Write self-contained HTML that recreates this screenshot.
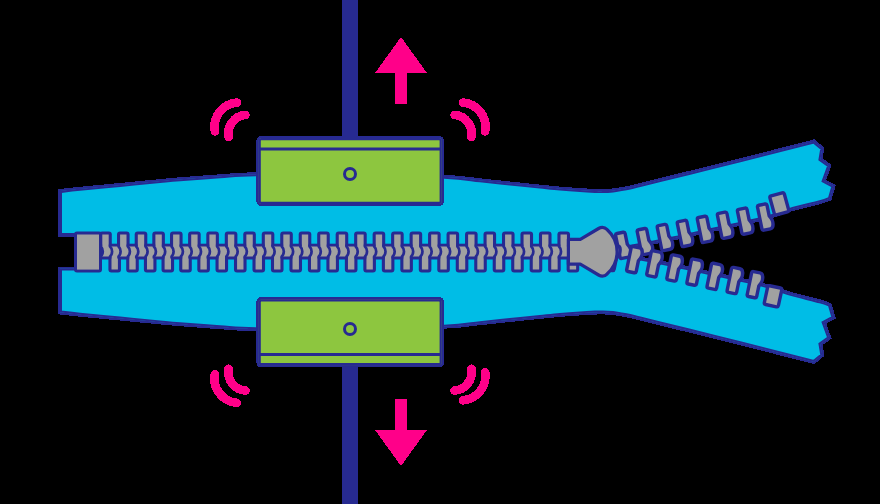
<!DOCTYPE html>
<html><head><meta charset="utf-8"><title>Zipper</title>
<style>html,body{margin:0;padding:0;background:#000;width:880px;height:504px;overflow:hidden;font-family:"Liberation Sans",sans-serif}svg{display:block}</style>
</head><body>
<svg width="880" height="504" viewBox="0 0 880 504">
<rect width="880" height="504" fill="#000"/>
<rect x="342" y="0" width="16" height="504" fill="#272a91"/>
<defs><clipPath id="tc"><path d="M60,235 L60,191 C63.33,190.63 70,189.8 80,188.8 C90,187.8 106.67,186.28 120,185 C133.33,183.72 150,182.05 160,181.1 C170,180.15 170,180.1 180,179.3 C190,178.5 207.33,177.13 220,176.3 C232.67,175.47 234.33,174.6 256,174.3 C277.67,174 318.67,174.08 350,174.5 C381.33,174.92 422.33,175.83 444,176.8 C465.67,177.77 469,179.18 480,180.3 C491,181.42 500,182.45 510,183.5 C520,184.55 531.67,185.75 540,186.6 C548.33,187.45 553.33,188.02 560,188.6 C566.67,189.18 574.17,189.72 580,190.1 C585.83,190.48 591.17,190.73 595,190.9 C598.83,191.07 600,191.18 603,191.1 C606,191.02 609.92,190.73 613,190.4 C616.08,190.07 618.67,189.58 621.5,189.1 C624.33,188.62 626.92,188.18 630,187.5 C633.08,186.82 635,186.23 640,185 C645,183.77 651.67,182.15 660,180.1 C668.33,178.05 676.67,175.98 690,172.7 C703.33,169.42 731.67,162.45 740,160.4 L813.8,141.5 L822.3,148.5 L820.5,159.3 L829.3,165.7 L823.8,180.8 L833.5,186 L829.8,198.7 C828.17,199.27 826.63,200.25 820,202.1 C813.37,203.95 797.88,207.5 790,209.8 C782.12,212.1 778.7,214.07 772.7,215.9 C766.7,217.73 760.45,219.25 754,220.8 C747.55,222.35 740.88,223.7 734,225.2 C727.12,226.7 719.53,228.32 712.7,229.8 C705.87,231.28 699.62,232.65 693,234.1 C686.38,235.55 680.17,237 673,238.5 C665.83,240 658,241.55 650,243.1 C642,244.65 632.5,246.4 625,247.8 C617.5,249.2 608.33,250.88 605,251.5 L603,251.75 L605,252 C608.33,252.62 617.5,254.3 625,255.7 C632.5,257.1 642,258.85 650,260.4 C658,261.95 665.83,263.5 673,265 C680.17,266.5 686.38,267.95 693,269.4 C699.62,270.85 705.87,272.22 712.7,273.7 C719.53,275.18 727.12,276.8 734,278.3 C740.88,279.8 747.55,281.15 754,282.7 C760.45,284.25 766.7,285.77 772.7,287.6 C778.7,289.43 782.12,291.4 790,293.7 C797.88,296 813.37,299.55 820,301.4 C826.63,303.25 828.17,304.23 829.8,304.8 L833.5,317.5 L823.8,322.7 L829.3,337.8 L820.5,344.2 L822.3,355 L813.8,362 L740,343.1 C731.67,341.05 703.33,334.08 690,330.8 C676.67,327.52 668.33,325.45 660,323.4 C651.67,321.35 645,319.73 640,318.5 C635,317.27 633.08,316.68 630,316 C626.92,315.32 624.33,314.88 621.5,314.4 C618.67,313.92 616.08,313.43 613,313.1 C609.92,312.77 606,312.48 603,312.4 C600,312.32 598.83,312.43 595,312.6 C591.17,312.77 585.83,313.02 580,313.4 C574.17,313.78 566.67,314.32 560,314.9 C553.33,315.48 548.33,316.05 540,316.9 C531.67,317.75 520,318.95 510,320 C500,321.05 491,322.08 480,323.2 C469,324.32 465.67,325.73 444,326.7 C422.33,327.67 381.33,328.58 350,329 C318.67,329.42 277.67,329.5 256,329.2 C234.33,328.9 232.67,328.03 220,327.2 C207.33,326.37 190,325 180,324.2 C170,323.4 170,323.35 160,322.4 C150,321.45 133.33,319.78 120,318.5 C106.67,317.22 90,315.7 80,314.7 C70,313.7 63.33,312.87 60,312.5 L60,268.5 L76,268.5 L76,235 Z"/></clipPath></defs>
<path shape-rendering="crispEdges" d="M60,235 L60,191 C63.33,190.63 70,189.8 80,188.8 C90,187.8 106.67,186.28 120,185 C133.33,183.72 150,182.05 160,181.1 C170,180.15 170,180.1 180,179.3 C190,178.5 207.33,177.13 220,176.3 C232.67,175.47 234.33,174.6 256,174.3 C277.67,174 318.67,174.08 350,174.5 C381.33,174.92 422.33,175.83 444,176.8 C465.67,177.77 469,179.18 480,180.3 C491,181.42 500,182.45 510,183.5 C520,184.55 531.67,185.75 540,186.6 C548.33,187.45 553.33,188.02 560,188.6 C566.67,189.18 574.17,189.72 580,190.1 C585.83,190.48 591.17,190.73 595,190.9 C598.83,191.07 600,191.18 603,191.1 C606,191.02 609.92,190.73 613,190.4 C616.08,190.07 618.67,189.58 621.5,189.1 C624.33,188.62 626.92,188.18 630,187.5 C633.08,186.82 635,186.23 640,185 C645,183.77 651.67,182.15 660,180.1 C668.33,178.05 676.67,175.98 690,172.7 C703.33,169.42 731.67,162.45 740,160.4 L813.8,141.5 L822.3,148.5 L820.5,159.3 L829.3,165.7 L823.8,180.8 L833.5,186 L829.8,198.7 C828.17,199.27 826.63,200.25 820,202.1 C813.37,203.95 797.88,207.5 790,209.8 C782.12,212.1 778.7,214.07 772.7,215.9 C766.7,217.73 760.45,219.25 754,220.8 C747.55,222.35 740.88,223.7 734,225.2 C727.12,226.7 719.53,228.32 712.7,229.8 C705.87,231.28 699.62,232.65 693,234.1 C686.38,235.55 680.17,237 673,238.5 C665.83,240 658,241.55 650,243.1 C642,244.65 632.5,246.4 625,247.8 C617.5,249.2 608.33,250.88 605,251.5 L603,251.75 L605,252 C608.33,252.62 617.5,254.3 625,255.7 C632.5,257.1 642,258.85 650,260.4 C658,261.95 665.83,263.5 673,265 C680.17,266.5 686.38,267.95 693,269.4 C699.62,270.85 705.87,272.22 712.7,273.7 C719.53,275.18 727.12,276.8 734,278.3 C740.88,279.8 747.55,281.15 754,282.7 C760.45,284.25 766.7,285.77 772.7,287.6 C778.7,289.43 782.12,291.4 790,293.7 C797.88,296 813.37,299.55 820,301.4 C826.63,303.25 828.17,304.23 829.8,304.8 L833.5,317.5 L823.8,322.7 L829.3,337.8 L820.5,344.2 L822.3,355 L813.8,362 L740,343.1 C731.67,341.05 703.33,334.08 690,330.8 C676.67,327.52 668.33,325.45 660,323.4 C651.67,321.35 645,319.73 640,318.5 C635,317.27 633.08,316.68 630,316 C626.92,315.32 624.33,314.88 621.5,314.4 C618.67,313.92 616.08,313.43 613,313.1 C609.92,312.77 606,312.48 603,312.4 C600,312.32 598.83,312.43 595,312.6 C591.17,312.77 585.83,313.02 580,313.4 C574.17,313.78 566.67,314.32 560,314.9 C553.33,315.48 548.33,316.05 540,316.9 C531.67,317.75 520,318.95 510,320 C500,321.05 491,322.08 480,323.2 C469,324.32 465.67,325.73 444,326.7 C422.33,327.67 381.33,328.58 350,329 C318.67,329.42 277.67,329.5 256,329.2 C234.33,328.9 232.67,328.03 220,327.2 C207.33,326.37 190,325 180,324.2 C170,323.4 170,323.35 160,322.4 C150,321.45 133.33,319.78 120,318.5 C106.67,317.22 90,315.7 80,314.7 C70,313.7 63.33,312.87 60,312.5 L60,268.5 L76,268.5 L76,235 Z" fill="#00bde6" stroke="#272a91" stroke-width="4" stroke-linejoin="miter" stroke-miterlimit="10"/>
<path clip-path="url(#tc)" d="M60,235 L60,191 C63.33,190.63 70,189.8 80,188.8 C90,187.8 106.67,186.28 120,185 C133.33,183.72 150,182.05 160,181.1 C170,180.15 170,180.1 180,179.3 C190,178.5 207.33,177.13 220,176.3 C232.67,175.47 234.33,174.6 256,174.3 C277.67,174 318.67,174.08 350,174.5 C381.33,174.92 422.33,175.83 444,176.8 C465.67,177.77 469,179.18 480,180.3 C491,181.42 500,182.45 510,183.5 C520,184.55 531.67,185.75 540,186.6 C548.33,187.45 553.33,188.02 560,188.6 C566.67,189.18 574.17,189.72 580,190.1 C585.83,190.48 591.17,190.73 595,190.9 C598.83,191.07 600,191.18 603,191.1 C606,191.02 609.92,190.73 613,190.4 C616.08,190.07 618.67,189.58 621.5,189.1 C624.33,188.62 626.92,188.18 630,187.5 C633.08,186.82 635,186.23 640,185 C645,183.77 651.67,182.15 660,180.1 C668.33,178.05 676.67,175.98 690,172.7 C703.33,169.42 731.67,162.45 740,160.4 L813.8,141.5 L822.3,148.5 L820.5,159.3 L829.3,165.7 L823.8,180.8 L833.5,186 L829.8,198.7 C828.17,199.27 826.63,200.25 820,202.1 C813.37,203.95 797.88,207.5 790,209.8 C782.12,212.1 778.7,214.07 772.7,215.9 C766.7,217.73 760.45,219.25 754,220.8 C747.55,222.35 740.88,223.7 734,225.2 C727.12,226.7 719.53,228.32 712.7,229.8 C705.87,231.28 699.62,232.65 693,234.1 C686.38,235.55 680.17,237 673,238.5 C665.83,240 658,241.55 650,243.1 C642,244.65 632.5,246.4 625,247.8 C617.5,249.2 608.33,250.88 605,251.5 L603,251.75 L605,252 C608.33,252.62 617.5,254.3 625,255.7 C632.5,257.1 642,258.85 650,260.4 C658,261.95 665.83,263.5 673,265 C680.17,266.5 686.38,267.95 693,269.4 C699.62,270.85 705.87,272.22 712.7,273.7 C719.53,275.18 727.12,276.8 734,278.3 C740.88,279.8 747.55,281.15 754,282.7 C760.45,284.25 766.7,285.77 772.7,287.6 C778.7,289.43 782.12,291.4 790,293.7 C797.88,296 813.37,299.55 820,301.4 C826.63,303.25 828.17,304.23 829.8,304.8 L833.5,317.5 L823.8,322.7 L829.3,337.8 L820.5,344.2 L822.3,355 L813.8,362 L740,343.1 C731.67,341.05 703.33,334.08 690,330.8 C676.67,327.52 668.33,325.45 660,323.4 C651.67,321.35 645,319.73 640,318.5 C635,317.27 633.08,316.68 630,316 C626.92,315.32 624.33,314.88 621.5,314.4 C618.67,313.92 616.08,313.43 613,313.1 C609.92,312.77 606,312.48 603,312.4 C600,312.32 598.83,312.43 595,312.6 C591.17,312.77 585.83,313.02 580,313.4 C574.17,313.78 566.67,314.32 560,314.9 C553.33,315.48 548.33,316.05 540,316.9 C531.67,317.75 520,318.95 510,320 C500,321.05 491,322.08 480,323.2 C469,324.32 465.67,325.73 444,326.7 C422.33,327.67 381.33,328.58 350,329 C318.67,329.42 277.67,329.5 256,329.2 C234.33,328.9 232.67,328.03 220,327.2 C207.33,326.37 190,325 180,324.2 C170,323.4 170,323.35 160,322.4 C150,321.45 133.33,319.78 120,318.5 C106.67,317.22 90,315.7 80,314.7 C70,313.7 63.33,312.87 60,312.5 L60,268.5 L76,268.5 L76,235 Z" fill="#00bde6" stroke="#272a91" stroke-width="4" stroke-linejoin="miter" stroke-miterlimit="10"/>
<g fill="#272a91"><rect x="99.2" y="231.4" width="12.6" height="22" rx="3"/><rect x="117" y="231.4" width="12.6" height="22" rx="3"/><rect x="134.7" y="231.4" width="12.6" height="22" rx="3"/><rect x="152.3" y="231.4" width="12.6" height="22" rx="3"/><rect x="170" y="231.4" width="12.6" height="22" rx="3"/><rect x="188.1" y="231.4" width="12.6" height="22" rx="3"/><rect x="206.3" y="231.4" width="12.6" height="22" rx="3"/><rect x="224.78" y="231.4" width="12.6" height="22" rx="3"/><rect x="243.26" y="231.4" width="12.6" height="22" rx="3"/><rect x="261.74" y="231.4" width="12.6" height="22" rx="3"/><rect x="280.22" y="231.4" width="12.6" height="22" rx="3"/><rect x="298.7" y="231.4" width="12.6" height="22" rx="3"/><rect x="317.18" y="231.4" width="12.6" height="22" rx="3"/><rect x="335.66" y="231.4" width="12.6" height="22" rx="3"/><rect x="354.14" y="231.4" width="12.6" height="22" rx="3"/><rect x="372.62" y="231.4" width="12.6" height="22" rx="3"/><rect x="391.1" y="231.4" width="12.6" height="22" rx="3"/><rect x="409.58" y="231.4" width="12.6" height="22" rx="3"/><rect x="428.06" y="231.4" width="12.6" height="22" rx="3"/><rect x="446.54" y="231.4" width="12.6" height="22" rx="3"/><rect x="465.02" y="231.4" width="12.6" height="22" rx="3"/><rect x="483.5" y="231.4" width="12.6" height="22" rx="3"/><rect x="501.98" y="231.4" width="12.6" height="22" rx="3"/><rect x="520.46" y="231.4" width="12.6" height="22" rx="3"/><rect x="538.94" y="231.4" width="12.6" height="22" rx="3"/><rect x="557.42" y="231.4" width="12.6" height="22" rx="3"/><rect x="108.4" y="250.6" width="12.6" height="22" rx="3"/><rect x="126.2" y="250.6" width="12.6" height="22" rx="3"/><rect x="143.9" y="250.6" width="12.6" height="22" rx="3"/><rect x="161.5" y="250.6" width="12.6" height="22" rx="3"/><rect x="179.2" y="250.6" width="12.6" height="22" rx="3"/><rect x="197.3" y="250.6" width="12.6" height="22" rx="3"/><rect x="215.5" y="250.6" width="12.6" height="22" rx="3"/><rect x="233.98" y="250.6" width="12.6" height="22" rx="3"/><rect x="252.46" y="250.6" width="12.6" height="22" rx="3"/><rect x="270.94" y="250.6" width="12.6" height="22" rx="3"/><rect x="289.42" y="250.6" width="12.6" height="22" rx="3"/><rect x="307.9" y="250.6" width="12.6" height="22" rx="3"/><rect x="326.38" y="250.6" width="12.6" height="22" rx="3"/><rect x="344.86" y="250.6" width="12.6" height="22" rx="3"/><rect x="363.34" y="250.6" width="12.6" height="22" rx="3"/><rect x="381.82" y="250.6" width="12.6" height="22" rx="3"/><rect x="400.3" y="250.6" width="12.6" height="22" rx="3"/><rect x="418.78" y="250.6" width="12.6" height="22" rx="3"/><rect x="437.26" y="250.6" width="12.6" height="22" rx="3"/><rect x="455.74" y="250.6" width="12.6" height="22" rx="3"/><rect x="474.22" y="250.6" width="12.6" height="22" rx="3"/><rect x="492.7" y="250.6" width="12.6" height="22" rx="3"/><rect x="511.18" y="250.6" width="12.6" height="22" rx="3"/><rect x="529.66" y="250.6" width="12.6" height="22" rx="3"/><rect x="548.14" y="250.6" width="12.6" height="22" rx="3"/><rect x="566.62" y="250.6" width="12.6" height="22" rx="3"/><rect x="74" y="243.7" width="500" height="15.8"/><rect x="74" y="231.5" width="28" height="41.1" rx="3"/></g>
<g fill="#a1a1a1"><rect x="102.3" y="234.5" width="6.4" height="18"/><rect x="120.1" y="234.5" width="6.4" height="18"/><rect x="137.8" y="234.5" width="6.4" height="18"/><rect x="155.4" y="234.5" width="6.4" height="18"/><rect x="173.1" y="234.5" width="6.4" height="18"/><rect x="191.2" y="234.5" width="6.4" height="18"/><rect x="209.4" y="234.5" width="6.4" height="18"/><rect x="227.88" y="234.5" width="6.4" height="18"/><rect x="246.36" y="234.5" width="6.4" height="18"/><rect x="264.84" y="234.5" width="6.4" height="18"/><rect x="283.32" y="234.5" width="6.4" height="18"/><rect x="301.8" y="234.5" width="6.4" height="18"/><rect x="320.28" y="234.5" width="6.4" height="18"/><rect x="338.76" y="234.5" width="6.4" height="18"/><rect x="357.24" y="234.5" width="6.4" height="18"/><rect x="375.72" y="234.5" width="6.4" height="18"/><rect x="394.2" y="234.5" width="6.4" height="18"/><rect x="412.68" y="234.5" width="6.4" height="18"/><rect x="431.16" y="234.5" width="6.4" height="18"/><rect x="449.64" y="234.5" width="6.4" height="18"/><rect x="468.12" y="234.5" width="6.4" height="18"/><rect x="486.6" y="234.5" width="6.4" height="18"/><rect x="505.08" y="234.5" width="6.4" height="18"/><rect x="523.56" y="234.5" width="6.4" height="18"/><rect x="542.04" y="234.5" width="6.4" height="18"/><rect x="560.52" y="234.5" width="6.4" height="18"/><rect x="111.5" y="251" width="6.4" height="18.5"/><rect x="129.3" y="251" width="6.4" height="18.5"/><rect x="147" y="251" width="6.4" height="18.5"/><rect x="164.6" y="251" width="6.4" height="18.5"/><rect x="182.3" y="251" width="6.4" height="18.5"/><rect x="200.4" y="251" width="6.4" height="18.5"/><rect x="218.6" y="251" width="6.4" height="18.5"/><rect x="237.08" y="251" width="6.4" height="18.5"/><rect x="255.56" y="251" width="6.4" height="18.5"/><rect x="274.04" y="251" width="6.4" height="18.5"/><rect x="292.52" y="251" width="6.4" height="18.5"/><rect x="311" y="251" width="6.4" height="18.5"/><rect x="329.48" y="251" width="6.4" height="18.5"/><rect x="347.96" y="251" width="6.4" height="18.5"/><rect x="366.44" y="251" width="6.4" height="18.5"/><rect x="384.92" y="251" width="6.4" height="18.5"/><rect x="403.4" y="251" width="6.4" height="18.5"/><rect x="421.88" y="251" width="6.4" height="18.5"/><rect x="440.36" y="251" width="6.4" height="18.5"/><rect x="458.84" y="251" width="6.4" height="18.5"/><rect x="477.32" y="251" width="6.4" height="18.5"/><rect x="495.8" y="251" width="6.4" height="18.5"/><rect x="514.28" y="251" width="6.4" height="18.5"/><rect x="532.76" y="251" width="6.4" height="18.5"/><rect x="551.24" y="251" width="6.4" height="18.5"/><rect x="569.72" y="251" width="6.4" height="18.5"/><rect x="102" y="246.5" width="470" height="10"/><rect x="77" y="234.5" width="22" height="35.1"/></g>
<path d="M100.8,244.5 L100.8,246.5 A7.25,7.25 0 0 1 100.8,256.5 L100.8,258.5 M110.1,244.5 L110.1,246.5 A7.25,7.25 0 0 1 110.1,256.5 L110.1,258.5 M127.9,244.5 L127.9,246.5 A7.25,7.25 0 0 1 127.9,256.5 L127.9,258.5 M145.6,244.5 L145.6,246.5 A7.25,7.25 0 0 1 145.6,256.5 L145.6,258.5 M163.2,244.5 L163.2,246.5 A7.25,7.25 0 0 1 163.2,256.5 L163.2,258.5 M180.9,244.5 L180.9,246.5 A7.25,7.25 0 0 1 180.9,256.5 L180.9,258.5 M199,244.5 L199,246.5 A7.25,7.25 0 0 1 199,256.5 L199,258.5 M217.2,244.5 L217.2,246.5 A7.25,7.25 0 0 1 217.2,256.5 L217.2,258.5 M235.68,244.5 L235.68,246.5 A7.25,7.25 0 0 1 235.68,256.5 L235.68,258.5 M254.16,244.5 L254.16,246.5 A7.25,7.25 0 0 1 254.16,256.5 L254.16,258.5 M272.64,244.5 L272.64,246.5 A7.25,7.25 0 0 1 272.64,256.5 L272.64,258.5 M291.12,244.5 L291.12,246.5 A7.25,7.25 0 0 1 291.12,256.5 L291.12,258.5 M309.6,244.5 L309.6,246.5 A7.25,7.25 0 0 1 309.6,256.5 L309.6,258.5 M328.08,244.5 L328.08,246.5 A7.25,7.25 0 0 1 328.08,256.5 L328.08,258.5 M346.56,244.5 L346.56,246.5 A7.25,7.25 0 0 1 346.56,256.5 L346.56,258.5 M365.04,244.5 L365.04,246.5 A7.25,7.25 0 0 1 365.04,256.5 L365.04,258.5 M383.52,244.5 L383.52,246.5 A7.25,7.25 0 0 1 383.52,256.5 L383.52,258.5 M402,244.5 L402,246.5 A7.25,7.25 0 0 1 402,256.5 L402,258.5 M420.48,244.5 L420.48,246.5 A7.25,7.25 0 0 1 420.48,256.5 L420.48,258.5 M438.96,244.5 L438.96,246.5 A7.25,7.25 0 0 1 438.96,256.5 L438.96,258.5 M457.44,244.5 L457.44,246.5 A7.25,7.25 0 0 1 457.44,256.5 L457.44,258.5 M475.92,244.5 L475.92,246.5 A7.25,7.25 0 0 1 475.92,256.5 L475.92,258.5 M494.4,244.5 L494.4,246.5 A7.25,7.25 0 0 1 494.4,256.5 L494.4,258.5 M512.88,244.5 L512.88,246.5 A7.25,7.25 0 0 1 512.88,256.5 L512.88,258.5 M531.36,244.5 L531.36,246.5 A7.25,7.25 0 0 1 531.36,256.5 L531.36,258.5 M549.84,244.5 L549.84,246.5 A7.25,7.25 0 0 1 549.84,256.5 L549.84,258.5 M568.32,244.5 L568.32,246.5 A7.25,7.25 0 0 1 568.32,256.5 L568.32,258.5 M118.6,244.5 L118.6,246.5 A7.25,7.25 0 0 1 118.6,256.5 L118.6,258.5 M136.3,244.5 L136.3,246.5 A7.25,7.25 0 0 1 136.3,256.5 L136.3,258.5 M153.9,244.5 L153.9,246.5 A7.25,7.25 0 0 1 153.9,256.5 L153.9,258.5 M171.6,244.5 L171.6,246.5 A7.25,7.25 0 0 1 171.6,256.5 L171.6,258.5 M189.7,244.5 L189.7,246.5 A7.25,7.25 0 0 1 189.7,256.5 L189.7,258.5 M207.9,244.5 L207.9,246.5 A7.25,7.25 0 0 1 207.9,256.5 L207.9,258.5 M226.38,244.5 L226.38,246.5 A7.25,7.25 0 0 1 226.38,256.5 L226.38,258.5 M244.86,244.5 L244.86,246.5 A7.25,7.25 0 0 1 244.86,256.5 L244.86,258.5 M263.34,244.5 L263.34,246.5 A7.25,7.25 0 0 1 263.34,256.5 L263.34,258.5 M281.82,244.5 L281.82,246.5 A7.25,7.25 0 0 1 281.82,256.5 L281.82,258.5 M300.3,244.5 L300.3,246.5 A7.25,7.25 0 0 1 300.3,256.5 L300.3,258.5 M318.78,244.5 L318.78,246.5 A7.25,7.25 0 0 1 318.78,256.5 L318.78,258.5 M337.26,244.5 L337.26,246.5 A7.25,7.25 0 0 1 337.26,256.5 L337.26,258.5 M355.74,244.5 L355.74,246.5 A7.25,7.25 0 0 1 355.74,256.5 L355.74,258.5 M374.22,244.5 L374.22,246.5 A7.25,7.25 0 0 1 374.22,256.5 L374.22,258.5 M392.7,244.5 L392.7,246.5 A7.25,7.25 0 0 1 392.7,256.5 L392.7,258.5 M411.18,244.5 L411.18,246.5 A7.25,7.25 0 0 1 411.18,256.5 L411.18,258.5 M429.66,244.5 L429.66,246.5 A7.25,7.25 0 0 1 429.66,256.5 L429.66,258.5 M448.14,244.5 L448.14,246.5 A7.25,7.25 0 0 1 448.14,256.5 L448.14,258.5 M466.62,244.5 L466.62,246.5 A7.25,7.25 0 0 1 466.62,256.5 L466.62,258.5 M485.1,244.5 L485.1,246.5 A7.25,7.25 0 0 1 485.1,256.5 L485.1,258.5 M503.58,244.5 L503.58,246.5 A7.25,7.25 0 0 1 503.58,256.5 L503.58,258.5 M522.06,244.5 L522.06,246.5 A7.25,7.25 0 0 1 522.06,256.5 L522.06,258.5 M540.54,244.5 L540.54,246.5 A7.25,7.25 0 0 1 540.54,256.5 L540.54,258.5 M559.02,244.5 L559.02,246.5 A7.25,7.25 0 0 1 559.02,256.5 L559.02,258.5" fill="none" stroke="#272a91" stroke-width="2.7"/>
<g fill="#a1a1a1" stroke="#272a91" stroke-width="6.8" stroke-linejoin="round" paint-order="stroke"><path transform="translate(617.3,235.2) rotate(-11.5)" d="M0,0 L6.3,0 L6.3,11 C7,13 8.6,14.8 8.6,17.2 C8.6,19.8 7.8,22 6.6,22 L0,22 Z"/>
<path transform="translate(638.9,231.42) rotate(-11.5)" d="M0,0 L6.3,0 L6.3,11 C7,13 8.6,14.8 8.6,17.2 C8.6,19.8 7.8,22 6.6,22 L0,22 Z"/>
<path transform="translate(658.95,227.34) rotate(-11.5)" d="M0,0 L6.3,0 L6.3,11 C7,13 8.6,14.8 8.6,17.2 C8.6,19.8 7.8,22 6.6,22 L0,22 Z"/>
<path transform="translate(679,223.26) rotate(-11.5)" d="M0,0 L6.3,0 L6.3,11 C7,13 8.6,14.8 8.6,17.2 C8.6,19.8 7.8,22 6.6,22 L0,22 Z"/>
<path transform="translate(699.05,219.18) rotate(-11.5)" d="M0,0 L6.3,0 L6.3,11 C7,13 8.6,14.8 8.6,17.2 C8.6,19.8 7.8,22 6.6,22 L0,22 Z"/>
<path transform="translate(719.1,215.1) rotate(-11.5)" d="M0,0 L6.3,0 L6.3,11 C7,13 8.6,14.8 8.6,17.2 C8.6,19.8 7.8,22 6.6,22 L0,22 Z"/>
<path transform="translate(739.15,211.02) rotate(-11.5)" d="M0,0 L6.3,0 L6.3,11 C7,13 8.6,14.8 8.6,17.2 C8.6,19.8 7.8,22 6.6,22 L0,22 Z"/>
<path transform="translate(759.2,206.94) rotate(-11.5)" d="M0,0 L6.3,0 L6.3,11 C7,13 8.6,14.8 8.6,17.2 C8.6,19.8 7.8,22 6.6,22 L0,22 Z"/>
<path transform="translate(606.3,267.6) rotate(11.5) scale(1,-1)" d="M0,0 L6.3,0 L6.3,11 C7,13 8.6,14.8 8.6,17.2 C8.6,19.8 7.8,22 6.6,22 L0,22 Z"/>
<path transform="translate(628.4,269.8) rotate(11.5) scale(1,-1)" d="M0,0 L6.3,0 L6.3,11 C7,13 8.6,14.8 8.6,17.2 C8.6,19.8 7.8,22 6.6,22 L0,22 Z"/>
<path transform="translate(648.48,273.97) rotate(11.5) scale(1,-1)" d="M0,0 L6.3,0 L6.3,11 C7,13 8.6,14.8 8.6,17.2 C8.6,19.8 7.8,22 6.6,22 L0,22 Z"/>
<path transform="translate(668.56,278.14) rotate(11.5) scale(1,-1)" d="M0,0 L6.3,0 L6.3,11 C7,13 8.6,14.8 8.6,17.2 C8.6,19.8 7.8,22 6.6,22 L0,22 Z"/>
<path transform="translate(688.64,282.31) rotate(11.5) scale(1,-1)" d="M0,0 L6.3,0 L6.3,11 C7,13 8.6,14.8 8.6,17.2 C8.6,19.8 7.8,22 6.6,22 L0,22 Z"/>
<path transform="translate(708.72,286.48) rotate(11.5) scale(1,-1)" d="M0,0 L6.3,0 L6.3,11 C7,13 8.6,14.8 8.6,17.2 C8.6,19.8 7.8,22 6.6,22 L0,22 Z"/>
<path transform="translate(728.8,290.65) rotate(11.5) scale(1,-1)" d="M0,0 L6.3,0 L6.3,11 C7,13 8.6,14.8 8.6,17.2 C8.6,19.8 7.8,22 6.6,22 L0,22 Z"/>
<path transform="translate(748.88,294.82) rotate(11.5) scale(1,-1)" d="M0,0 L6.3,0 L6.3,11 C7,13 8.6,14.8 8.6,17.2 C8.6,19.8 7.8,22 6.6,22 L0,22 Z"/>
<rect transform="translate(771.6,197.5) rotate(-15.5)" width="11.5" height="16.3"/>
<rect transform="translate(769.3,287.4) rotate(12)" width="11" height="15.8"/></g>
<path d="M568.4,239.3 L580.3,239.3 L598.57,228.5 Q603.3,225.7 607.25,229.74 A29.5,29.5 0 0 1 607.25,273.76 Q603.3,277.8 598.57,275 L580.3,264.2 L568.4,264.2 Z" fill="#a1a1a1" stroke="#272a91" stroke-width="3.2" stroke-linejoin="round"/>
<clipPath id="bc0"><rect x="258.6" y="138.1" width="183.2" height="65.8" rx="2.5"/></clipPath>
<rect shape-rendering="crispEdges" x="258.6" y="138.1" width="183.2" height="65.8" rx="2.5" fill="#8dc63f" stroke="#272a91" stroke-width="4.4"/>
<rect clip-path="url(#bc0)" x="258.6" y="138.1" width="183.2" height="65.8" rx="2.5" fill="#8dc63f" stroke="#272a91" stroke-width="4.4"/>
<line x1="260" y1="149" x2="440" y2="149" stroke="#272a91" stroke-width="3"/>
<circle cx="350" cy="174" r="5.5" fill="none" stroke="#272a91" stroke-width="3"/>
<clipPath id="bc1"><rect x="258.6" y="299.4" width="183.2" height="65.8" rx="2.5"/></clipPath>
<rect shape-rendering="crispEdges" x="258.6" y="299.4" width="183.2" height="65.8" rx="2.5" fill="#8dc63f" stroke="#272a91" stroke-width="4.4"/>
<rect clip-path="url(#bc1)" x="258.6" y="299.4" width="183.2" height="65.8" rx="2.5" fill="#8dc63f" stroke="#272a91" stroke-width="4.4"/>
<line x1="260" y1="354.5" x2="440" y2="354.5" stroke="#272a91" stroke-width="3"/>
<circle cx="350" cy="329" r="5.5" fill="none" stroke="#272a91" stroke-width="3"/>
<path shape-rendering="crispEdges" d="M401,37 L427,73 L407,73 L407,104 L395,104 L395,73 L375,73 Z" fill="#ff0089"/><path shape-rendering="crispEdges" d="M401,466 L427,430 L407,430 L407,399 L395,399 L395,430 L375,430 Z" fill="#ff0089"/>
<path shape-rendering="crispEdges" d="M214.87,131.25 A24.5,24.5 0 0 1 236.86,102.59 M228.58,136.75 A18.7,18.7 0 0 1 245.37,114.87 M214.87,374.25 A24.5,24.5 0 0 0 236.86,402.91 M228.58,368.75 A18.7,18.7 0 0 0 245.37,390.63 M485.13,131.25 A24.5,24.5 0 0 0 463.14,102.59 M471.42,136.75 A18.7,18.7 0 0 0 454.63,114.87 M485.13,372.25 A24.5,24.5 0 0 1 463.14,400.31 M471.42,368.75 A18.7,18.7 0 0 1 454.63,390.63" fill="none" stroke="#ff0089" stroke-width="8.7" stroke-linecap="round"/>
</svg>
</body></html>
